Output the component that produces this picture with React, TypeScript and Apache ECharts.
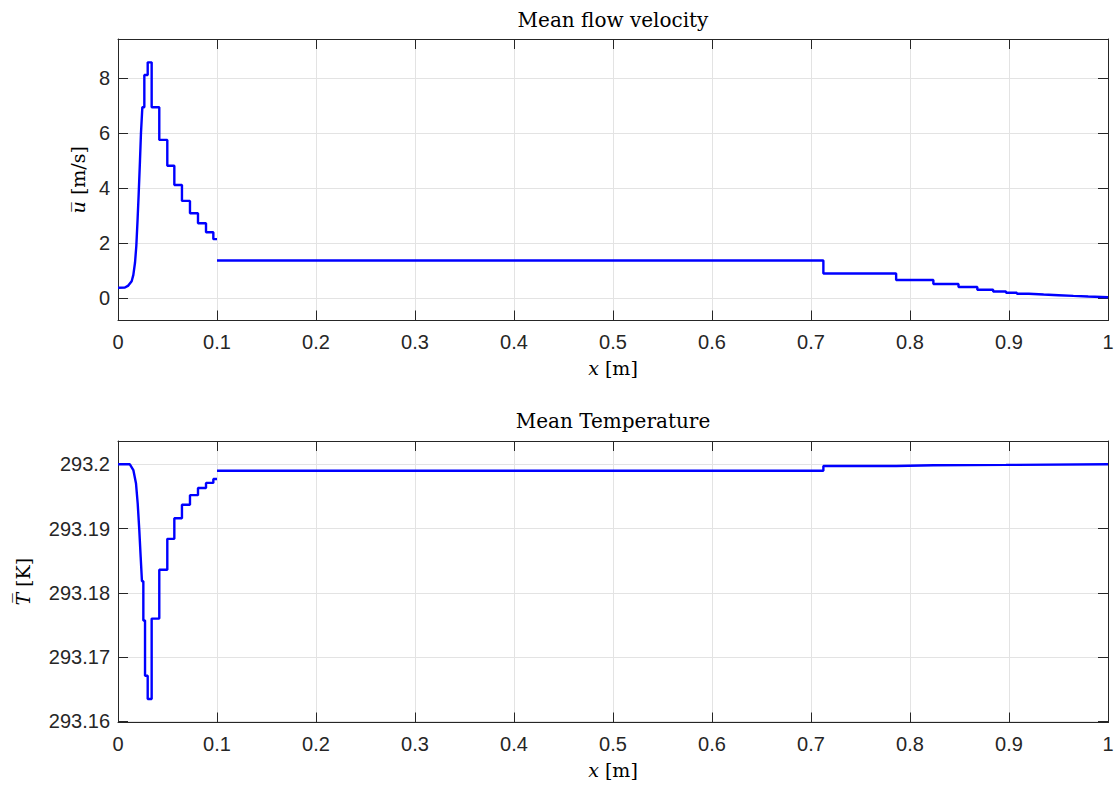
import React, { useEffect, useRef } from "react";
import * as echarts from "echarts";

// x tick values (both panels)
const xTickVals = [0, 0.1, 0.2, 0.3, 0.4, 0.5, 0.6, 0.7, 0.8, 0.9, 1];
// top panel y ticks
const uTicks = [0, 2, 4, 6, 8];
// bottom panel y ticks
const tTicks = [293.16, 293.17, 293.18, 293.19, 293.2];

// Mean flow velocity, first segment (0 .. 0.1 m)
const uX1 = [0, 0.007, 0.0104, 0.0138, 0.0155, 0.0172, 0.0185, 0.0197, 0.0209, 0.0222, 0.0232, 0.0246, 0.0266, 0.0266, 0.030, 0.030, 0.034, 0.034, 0.0417, 0.0417, 0.0498, 0.0498, 0.0569, 0.0569, 0.0646, 0.0646, 0.0727, 0.0727, 0.0808, 0.0808, 0.0889, 0.0889, 0.0963, 0.0963, 0.1];
const uY1 = [0.38, 0.39, 0.46, 0.62, 0.85, 1.3, 1.9, 2.8, 3.8, 5.0, 6.0, 6.95, 6.95, 8.12, 8.12, 8.58, 8.58, 6.95, 6.95, 5.76, 5.76, 4.82, 4.82, 4.12, 4.12, 3.54, 3.54, 3.09, 3.09, 2.73, 2.73, 2.4, 2.4, 2.15, 2.15];
// Mean flow velocity, second segment (0.1 .. 1 m)
const uX2 = [0.1, 0.7125, 0.7125, 0.786, 0.786, 0.8236, 0.8236, 0.849, 0.849, 0.868, 0.868, 0.884, 0.884, 0.897, 0.897, 0.908, 0.908, 0.92, 0.935, 0.95, 0.965, 0.98, 1.0];
const uY2 = [1.37, 1.37, 0.9, 0.9, 0.665, 0.665, 0.52, 0.52, 0.41, 0.41, 0.31, 0.31, 0.245, 0.245, 0.2, 0.2, 0.165, 0.165, 0.135, 0.11, 0.085, 0.062, 0.036];

// Mean temperature, first segment
const tX1 = [0, 0.012, 0.0155, 0.0182, 0.0199, 0.0215, 0.0229, 0.0242, 0.0256, 0.0256, 0.0273, 0.0273, 0.030, 0.030, 0.034, 0.034, 0.0417, 0.0417, 0.0498, 0.0498, 0.0569, 0.0569, 0.0646, 0.0646, 0.0727, 0.0727, 0.0808, 0.0808, 0.0889, 0.0889, 0.0963, 0.0963, 0.1];
const tY1 = [293.2, 293.2, 293.1991, 293.197, 293.1939, 293.1898, 293.1856, 293.1818, 293.1818, 293.1757, 293.1757, 293.1671, 293.1671, 293.1635, 293.1635, 293.176, 293.176, 293.1836, 293.1836, 293.1884, 293.1884, 293.1916, 293.1916, 293.1937, 293.1937, 293.1952, 293.1952, 293.1963, 293.1963, 293.1971, 293.1971, 293.1977, 293.1977];
// Mean temperature, second segment
const tX2 = [0.1, 0.7125, 0.7125, 0.786, 0.786, 0.8236, 0.8236, 0.897, 0.897, 1.0];
const tY2 = [293.199, 293.199, 293.19974, 293.19974, 293.19984, 293.19984, 293.1999, 293.1999, 293.19995, 293.2];

const zip = (xs: number[], ys: number[]) => xs.map((x, i) => [x, ys[i]]);

const AX = "#262626";
const GRID = "#e3e3e3";
const SERIF = "DejaVu Serif";
const SANS = "Liberation Sans";

function xAxes(gridIndex: number) {
  const base = {
    gridIndex,
    type: "value",
    min: xTickVals[0],
    max: xTickVals[xTickVals.length - 1],
    interval: 0.1,
    axisLine: { show: true, onZero: false, lineStyle: { color: AX, width: 1 } },
    axisTick: { show: true, inside: true, length: 10, lineStyle: { color: AX } },
  };
  return [
    {
      ...base,
      position: "bottom",
      axisLabel: { show: true, fontSize: 20, color: AX, fontFamily: SANS, margin: 11, formatter: (v: number) => String(+v.toFixed(1)) },
      splitLine: { show: true, lineStyle: { color: GRID, width: 1 } },
      name: "{i|x} [m]",
      nameLocation: "middle",
      nameGap: 38,
      nameTextStyle: {
        fontFamily: SERIF, fontSize: 19, color: "#000",
        rich: { i: { fontFamily: SERIF, fontStyle: "italic", fontSize: 19, color: "#000" } },
      },
    },
    {
      ...base,
      position: "top",
      axisLabel: { show: false },
      splitLine: { show: false },
    },
  ];
}

function yAxes(gridIndex: number, min: number, max: number, ticks: number[], name: string, nameGap: number) {
  const base = {
    gridIndex,
    type: "value",
    min,
    max,
    scale: true,
    axisLine: { show: true, onZero: false, lineStyle: { color: AX, width: 1 } },
    axisTick: { show: true, inside: true, length: 10, customValues: ticks, lineStyle: { color: AX } },
  };
  return [
    {
      ...base,
      position: "left",
      axisLabel: { show: true, fontSize: 20, color: AX, fontFamily: SANS, margin: 8, customValues: ticks, formatter: (v: number) => String(+v.toFixed(2)) },
      splitLine: { show: true, lineStyle: { color: GRID, width: 1 } },
      name,
      nameLocation: "middle",
      nameRotate: 90,
      nameGap,
      nameTextStyle: {
        fontFamily: SERIF, fontSize: 19, color: "#000",
        rich: { i: { fontFamily: SERIF, fontStyle: "italic", fontSize: 19, color: "#000" } },
      },
    },
    {
      ...base,
      position: "right",
      axisLabel: { show: false },
      splitLine: { show: false },
    },
  ];
}

const lineSeries = (data: number[][], xi: number, yi: number) => ({
  type: "line",
  xAxisIndex: xi,
  yAxisIndex: yi,
  data,
  showSymbol: false,
  symbol: "none",
  clip: true,
  lineStyle: { color: "#0000ff", width: 2.4 },
});

export default function App() {
  const ref = useRef<HTMLDivElement>(null);
  useEffect(() => {
    const chart = echarts.init(ref.current!, null, { renderer: "svg" });
    const option: any = {
      animation: false,
      backgroundColor: "#ffffff",
      grid: [
        { left: 118, top: 39, width: 990, height: 281.5, outerBoundsMode: "none" },
        { left: 118, top: 441, width: 990, height: 281.5, outerBoundsMode: "none" },
      ],
      xAxis: [...xAxes(0), ...xAxes(1)],
      yAxis: [
        ...yAxes(0, -0.81, 9.43, uTicks, "{i|u\u0305} [m/s]", 24),
        ...yAxes(1, 293.15984, 293.20362, tTicks, "{i|T\u0305} [K]", 86),
      ],
      graphic: [
        { type: "text", x: 613, y: 20, style: { text: "Mean flow velocity", font: `20px "${SERIF}"`, fill: "#000", textAlign: "center", textVerticalAlign: "middle" } },
        { type: "text", x: 613, y: 421, style: { text: "Mean Temperature", font: `20px "${SERIF}"`, fill: "#000", textAlign: "center", textVerticalAlign: "middle" } },
      ],
      series: [
        lineSeries(zip(uX1, uY1), 0, 0),
        lineSeries(zip(uX2, uY2), 0, 0),
        lineSeries(zip(tX1, tY1), 2, 2),
        lineSeries(zip(tX2, tY2), 2, 2),
      ],
    };
    chart.setOption(option);
    return () => chart.dispose();
  }, []);
  return (
    <div
      ref={ref}
      style={{ position: "absolute", left: 0, top: 0, width: 1116, height: 787, background: "#fff" }}
    />
  );
}
